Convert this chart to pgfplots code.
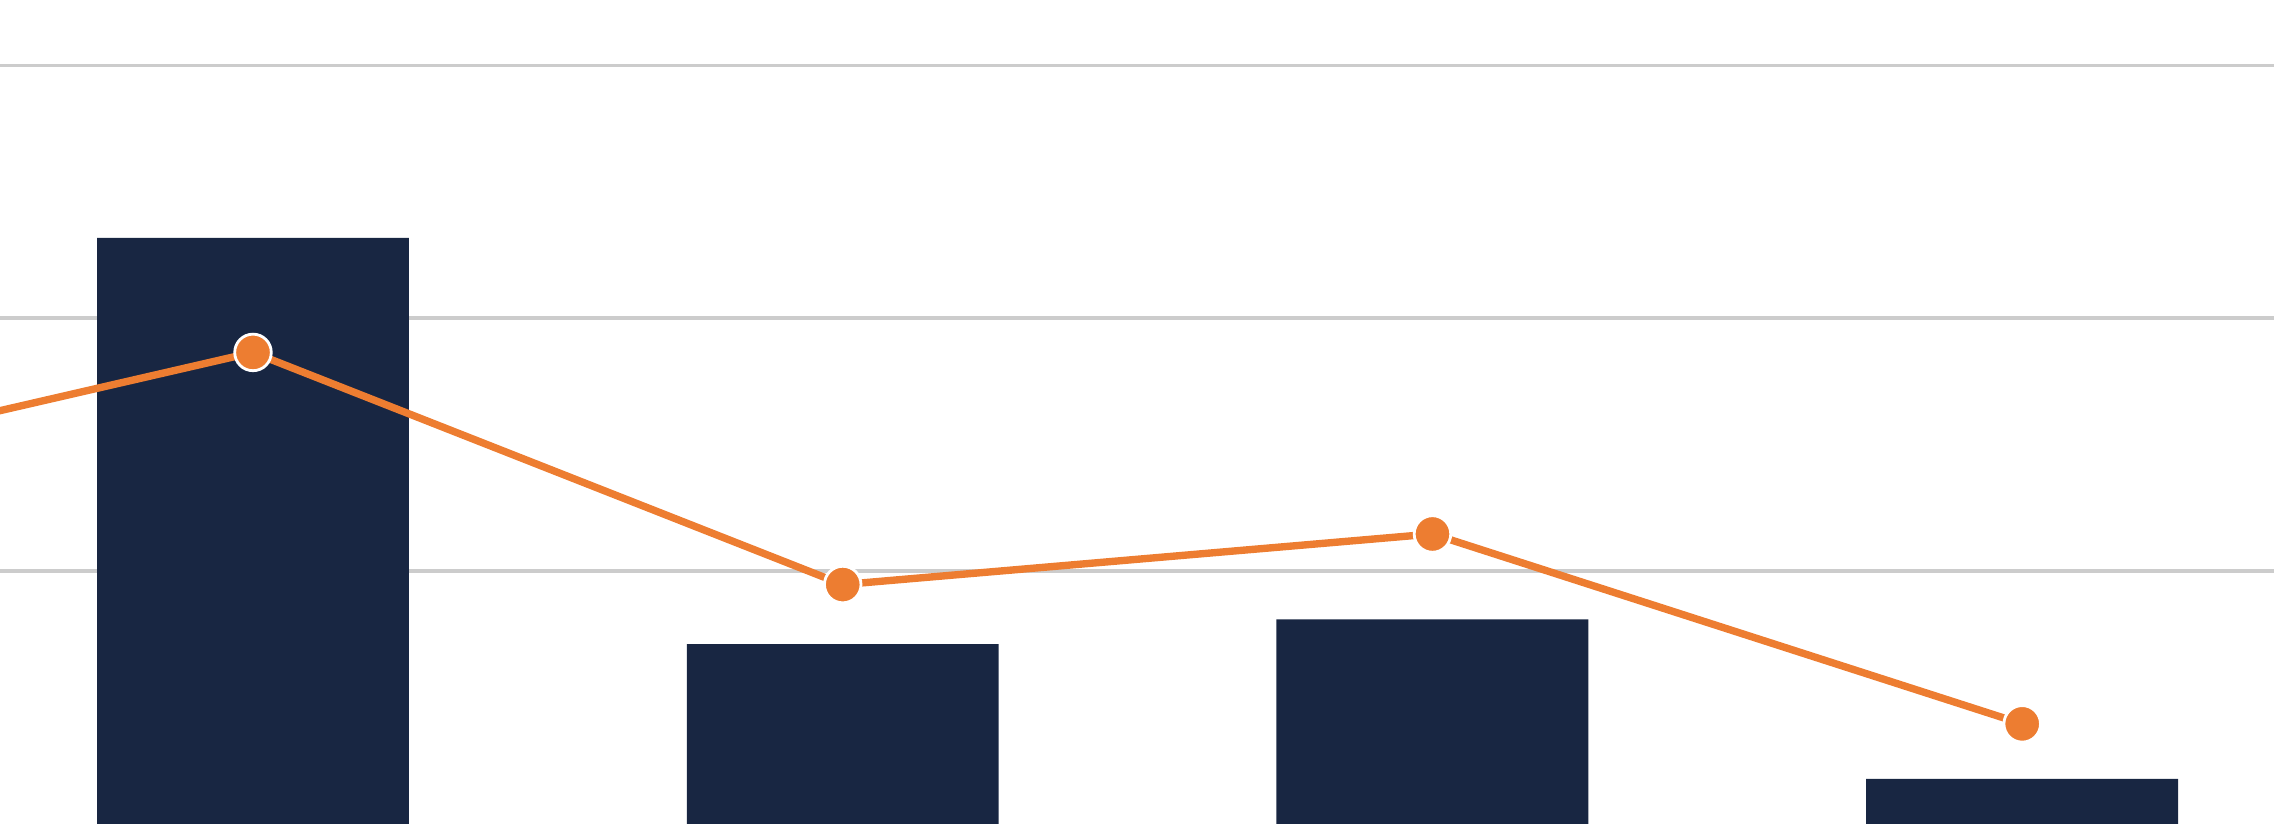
\documentclass[border=0pt]{standalone}
\usepackage{pgfplots}
\pgfplotsset{compat=1.18}
\definecolor{navy}{HTML}{182642}
\definecolor{orangeline}{HTML}{ED7D31}
\definecolor{gridgray}{HTML}{CCCCCC}
\begin{document}
\begin{tikzpicture}
\begin{axis}[
    at={(0,0)}, anchor=south west,
    scale only axis,
    width=22.74cm, height=8.24cm,
    xmin=-0.429, xmax=3.427,
    ymin=0, ymax=3.259,
    xtick=\empty,
    ytick={1,2,3},
    yticklabels={},
    ymajorgrids,
    grid style={gridgray, line width=1.1pt},
    axis line style={draw=none},
    major tick length=0pt,
    clip=true,
]
% bars
\addplot[ybar, bar width=0.529, fill=navy, draw=none] coordinates {
    (0,2.318) (1,0.711) (2,0.809) (3,0.178)
};
% line (first point lies left of the visible area)
\addplot[orangeline, line width=2.1pt, mark=*,
    mark options={fill=orangeline, draw=white, line width=0.8pt},
    mark size=5.2pt] coordinates {
    (-1,1.328) (0,1.865) (1,0.947) (2,1.147) (3,0.396)
};
\end{axis}
\pgfresetboundingbox
\path (0,0) rectangle (22.74cm,8.24cm);
\end{tikzpicture}
\end{document}
